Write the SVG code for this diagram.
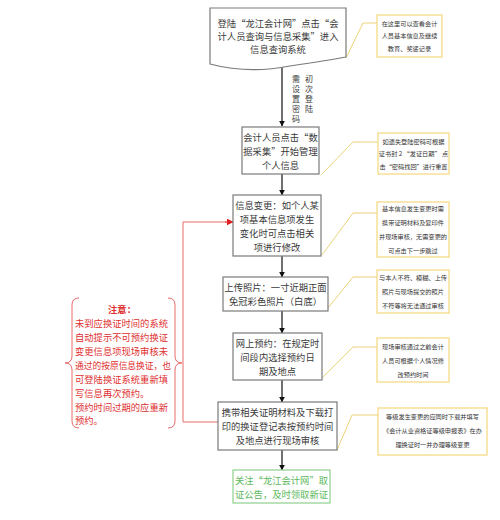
<svg xmlns="http://www.w3.org/2000/svg" width="500" height="520" viewBox="0 0 500 520">
<defs>
<marker id="ah" viewBox="0 0 10 10" refX="9" refY="5" markerWidth="6" markerHeight="6" orient="auto" markerUnits="userSpaceOnUse"><path d="M0,0 L10,5 L0,10 Z" fill="#111"/></marker>
<marker id="ahr" viewBox="0 0 10 10" refX="9" refY="5" markerWidth="7" markerHeight="7" orient="auto" markerUnits="userSpaceOnUse"><path d="M0,0 L10,5 L0,10 Z" fill="#e02020"/></marker>
<style>
.box{fill:#fff;stroke:#7a7a7a;stroke-width:1.2}
.gbox{fill:#fff;stroke:#8fcf8f;stroke-width:1.2}
.cbox{fill:#fff;stroke:#f3d77a;stroke-width:1.2}
.cl{fill:none;stroke:#ecd37a;stroke-width:1}
.t{font-family:"Noto Sans CJK SC","Liberation Sans",sans-serif;font-size:9.3px;fill:#3a3a3a;text-anchor:middle}
.v{font-family:"Noto Sans CJK SC","Liberation Sans",sans-serif;font-size:8px;fill:#3a3a3a;text-anchor:middle}
.g{fill:#5cb85c}
.s{font-family:"Noto Sans CJK SC","Liberation Sans",sans-serif;font-size:6.2px;fill:#333;text-anchor:middle}
.r{font-family:"Noto Sans CJK SC","Liberation Sans",sans-serif;font-size:9.3px;fill:#e03030}
.ar{fill:none;stroke:#111;stroke-width:1.2}
.red{fill:none;stroke:#e86a6a;stroke-width:1}
</style>
</defs>

<g id="connectors">
<path class="ar" d="M282,67 V126" marker-end="url(#ah)"/>
<path class="ar" d="M282,174 V195" marker-end="url(#ah)"/>
<path class="ar" d="M282,256 V277" marker-end="url(#ah)"/>
<path class="ar" d="M282,311 V333" marker-end="url(#ah)"/>
<path class="ar" d="M282,380 V402" marker-end="url(#ah)"/>
<path class="ar" d="M282,450 V470" marker-end="url(#ah)"/>
<path class="red" d="M218,422 H183 V222 H226"/>
<path d="M225,222 H233" stroke="#e02020" stroke-width="1" marker-end="url(#ahr)"/>
<path class="cl" d="M377,23 H363 L346,58"/>
<path class="cl" d="M378,142 H353 L322,174"/>
<path class="cl" d="M377,213 H353 L322,255"/>
<path class="cl" d="M377,277 H353 L328,308"/>
<path class="cl" d="M377,347 H353 L322,378"/>
<path class="cl" d="M378,415 H352 L337,450"/>
<text class="v" x="296" y="82">需</text>
<text class="v" x="296" y="92">设</text>
<text class="v" x="296" y="102">置</text>
<text class="v" x="296" y="112">密</text>
<text class="v" x="296" y="122">码</text>
<text class="v" x="309" y="82">初</text>
<text class="v" x="309" y="92">次</text>
<text class="v" x="309" y="102">登</text>
<text class="v" x="309" y="112">陆</text>
</g>

<g id="n1">
<path class="box" d="M210,8 H346 V57 C 330,60 310,63 290,66 C 265,71 240,72 210,64 Z"/>
<text class="t" x="278" y="27">登陆“龙江会计网”点击“会</text>
<text class="t" x="278" y="40">计人员查询与信息采集”进入</text>
<text class="t" x="278" y="53">信息查询系统</text>
</g>

<g id="c1">
<rect class="cbox" x="377" y="15" width="65" height="42"/>
<text class="s" x="409.5" y="26" font-size="6.6">在这里可以查看会计</text>
<text class="s" x="409.5" y="38" font-size="6.6">人员基本信息及继续</text>
<text class="s" x="409.5" y="51" font-size="6.6">教育、奖惩记录</text>
</g>

<g id="n2">
<rect class="box" x="242" y="127" width="77" height="47"/>
<text class="t" x="280.5" y="141">会计人员点击“数</text>
<text class="t" x="280.5" y="155">据采集”开始管理</text>
<text class="t" x="280.5" y="169">个人信息</text>
</g>

<g id="c2">
<rect class="cbox" x="378" y="133" width="71" height="41"/>
<text class="s" x="413.5" y="144">如遗失登陆密码可根据</text>
<text class="s" x="413.5" y="156" font-size="5.6">证书封 2 “发证日期” 点</text>
<text class="s" x="413.5" y="169">击“密码找回”进行重置</text>
</g>

<g id="n3">
<rect class="box" x="233" y="195" width="88" height="61"/>
<text class="t" x="277" y="209">信息变更：如个人某</text>
<text class="t" x="277" y="223">项基本信息项发生</text>
<text class="t" x="277" y="237">变化时可点击相关</text>
<text class="t" x="277" y="251">项进行修改</text>
</g>

<g id="c3">
<rect class="cbox" x="377" y="202" width="72" height="55"/>
<text class="s" x="413" y="211">基本信息发生变更时需</text>
<text class="s" x="413" y="225">携带证明材料及复印件</text>
<text class="s" x="413" y="239">并现场审核，无需变更的</text>
<text class="s" x="413" y="253">可点击下一步跳过</text>
</g>

<g id="n4">
<rect class="box" x="223" y="277" width="105" height="34"/>
<text class="t" x="275.5" y="291">上传照片：一寸近期正面</text>
<text class="t" x="275.5" y="305">免冠彩色照片（白底）</text>
</g>

<g id="c4">
<rect class="cbox" x="377" y="270" width="72" height="43"/>
<text class="s" x="413" y="280">与本人不符、模糊、上传</text>
<text class="s" x="413" y="294">照片与现场提交的照片</text>
<text class="s" x="413" y="308">不符等将无法通过审核</text>
</g>

<g id="n5">
<rect class="box" x="233" y="333" width="89" height="47"/>
<text class="t" x="277.5" y="347">网上预约：在规定时</text>
<text class="t" x="277.5" y="361">间段内选择预约日</text>
<text class="t" x="277.5" y="375">期及地点</text>
</g>

<g id="c5">
<rect class="cbox" x="377" y="338" width="72" height="44"/>
<text class="s" x="413" y="349">现场审核通过之前会计</text>
<text class="s" x="413" y="363">人员可根据个人情况修</text>
<text class="s" x="413" y="377">改预约时间</text>
</g>

<g id="n6">
<rect class="box" x="218" y="402" width="119" height="48"/>
<text class="t" x="277.5" y="416" font-size="9.6">携带相关证明材料及下载打</text>
<text class="t" x="277.5" y="430" font-size="9.6">印的换证登记表按预约时间</text>
<text class="t" x="277.5" y="444" font-size="9.6">及地点进行现场审核</text>
</g>

<g id="c6">
<rect class="cbox" x="378" y="408" width="109" height="47"/>
<text class="s" x="432.5" y="419" font-size="6.1">等级发生变更的应同时下载并填写</text>
<text class="s" x="432.5" y="433" font-size="6.1">《会计从业资格证等级申报表》在办</text>
<text class="s" x="432.5" y="447" font-size="6.1">理换证时一并办理等级变更</text>
</g>

<g id="n7">
<rect class="gbox" x="233" y="470" width="97" height="33"/>
<text class="t g" x="281.5" y="484">关注“龙江会计网”取</text>
<text class="t g" x="281.5" y="498">证公告，及时领取新证</text>
</g>

<g id="note">
<path class="red" d="M79,298 Q72,298 72,305 V356 Q72,363 65,363 Q72,363 72,370 V421 Q72,428 79,428"/>
<path class="red" d="M168,298 Q175,298 175,305 V356 Q175,363 182,363 Q175,363 175,370 V421 Q175,428 168,428"/>
<text class="r" x="122" y="313" text-anchor="middle" font-weight="bold">注意：</text>
<text class="r" x="75" y="327">未到应换证时间的系统</text>
<text class="r" x="75" y="341">自动提示不可预约换证</text>
<text class="r" x="75" y="355">变更信息项现场审核未</text>
<text class="r" x="75" y="369" textLength="96" lengthAdjust="spacingAndGlyphs">通过的按原信息换证，也</text>
<text class="r" x="75" y="383">可登陆换证系统重新填</text>
<text class="r" x="75" y="397">写信息再次预约。</text>
<text class="r" x="75" y="411">预约时间过期的应重新</text>
<text class="r" x="75" y="424">预约。</text>
</g>
</svg>
